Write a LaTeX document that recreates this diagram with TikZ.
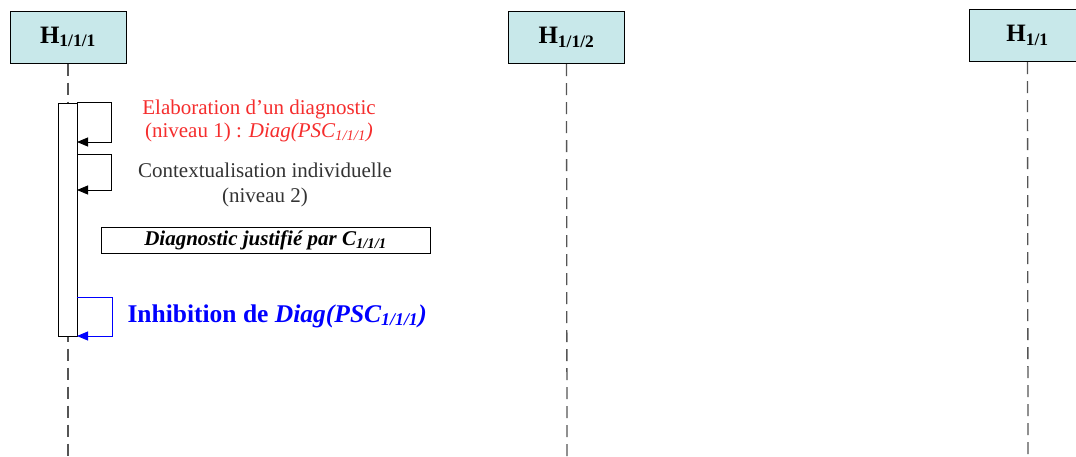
\documentclass[tikz,border=0pt]{standalone}
\usepackage{fontspec}
\setmainfont{Liberation Serif}
\usepackage{tikz}
\usetikzlibrary{arrows.meta,positioning}
\definecolor{headcyan}{RGB}{200,232,234}
\definecolor{msgred}{RGB}{245,45,45}
\definecolor{lifegray}{RGB}{85,85,85}

\begin{document}
\begin{tikzpicture}[x=1pt,y=-1pt,>={Triangle[length=11pt,width=9pt]}]
  \useasboundingbox (0,0) rectangle (1076,456);
  \tikzset{
    head/.style={draw,line width=1pt,fill=headcyan,minimum width=116,minimum height=52,
      inner sep=0pt,font=\fontsize{25}{30}\selectfont\bfseries},
    lifeline/.style={lifegray,line width=1.3pt,dash pattern=on 12pt off 7pt},
    selfmsg/.style={->,line width=0.9pt},
  }

  % Heads of the three lifelines.
  \node[head] (h1) at (68,37) {H\textsubscript{1/1/1}};
  \node[head] (h2) at (566.5,37.5) {H\textsubscript{1/1/2}};
  \node[head] (h3) at (1027.5,35.5) {H\textsubscript{1/1}};
  \coordinate (h1end) at (68,456);
  \coordinate (h2end) at (567,456);
  \coordinate (h3end) at (1028,456);

  % Dashed lifelines.
  \draw[lifeline] (h1.south) -- (h1end);
  \draw[lifeline] (h2.south) -- (h2end);
  \draw[lifeline] (h3.south) -- (h3end);

  % Activation bar.
  \node[draw,line width=0.9pt,fill=white,minimum width=19,minimum height=233,inner sep=0pt]
    (act) at (67.5,219.5) {};

  % Self messages.
  \coordinate (m1end) at (77,142);
  \coordinate (m2top) at (77,154);
  \coordinate (m2end) at (77,190);
  \coordinate (m3top) at (77,297);
  \coordinate (m3end) at (77,336);
  \draw[selfmsg] (act.north east) -- ++(34,0) |- (m1end);
  \draw[selfmsg] (m2top) -- ++(34,0) |- (m2end);
  \draw[selfmsg,blue] (m3top) -- ++(35,0) |- (m3end);

  % Message labels.
  \node[align=center,text=msgred,font=\fontsize{21}{23.5}\selectfont] (lab1) at (259,121)
    {Elaboration d'un diagnostic\\(niveau 1) : \textit{Diag(PSC\textsubscript{1/1/1})}};
  \node[align=center,text=black!80,font=\fontsize{21}{25}\selectfont] (lab2) at (265,185)
    {Contextualisation individuelle\\(niveau 2)};
  \node[draw,line width=0.9pt,minimum width=329,minimum height=26,inner sep=0pt,
    font=\fontsize{21}{24}\selectfont\bfseries\itshape] (just) at (265.5,240)
    {Diagnostic justifié par C\textsubscript{1/1/1}};
  \node[anchor=west,text=blue,font=\fontsize{25.5}{30}\selectfont\bfseries] (lab3) at (124,316)
    {Inhibition de \textit{Diag(PSC\textsubscript{1/1/1})}};
\end{tikzpicture}
\end{document}
